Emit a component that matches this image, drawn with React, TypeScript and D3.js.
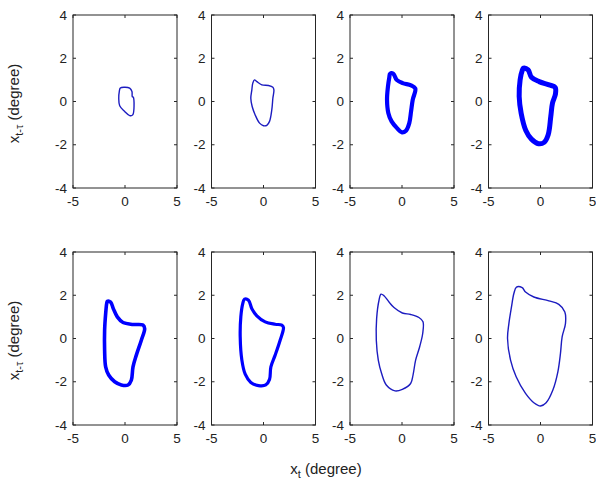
import React from "react";
import * as d3 from "d3";

type Pt = [number, number];

const xTicks = [-5, 0, 5];
const yTicks = [-4, -2, 0, 2, 4];
const xDomain: [number, number] = [-5, 5];
const yDomain: [number, number] = [-4, 4];

const loop1: Pt[] = [[-0.45,0.62],[-0.1,0.66],[0.45,0.62],[0.67,0.46],[0.7,0.23],[0.8,0.2],[0.74,-0.62],[0.45,-0.65],[-0.03,-0.46],[-0.51,-0.2],[-0.6,0.15],[-0.55,0.46]];
const loop2: Pt[] = [[-0.87,1.0],[-0.64,0.92],[-0.16,0.77],[0.48,0.74],[0.9,0.66],[1.0,0.54],[0.9,0.15],[0.8,-0.38],[0.58,-0.92],[0.32,-1.1],[0,-1.12],[-0.38,-1.0],[-0.8,-0.62],[-1.09,-0.23],[-1.22,0.15],[-1.12,0.54],[-1.03,0.85]];
const loop3: Pt[] = [[-1.15,1.28],[-0.83,1.28],[-0.51,1.0],[0.06,0.85],[0.87,0.75],[1.28,0.6],[1.03,0.08],[0.87,-0.46],[0.7,-1.0],[0.38,-1.35],[0,-1.43],[-0.48,-1.23],[-1.0,-0.92],[-1.31,-0.54],[-1.44,0.08],[-1.35,0.69],[-1.22,1.12]];
const loop4: Pt[] = [[-1.63,1.54],[-1.19,1.46],[-0.87,1.12],[-0.13,0.92],[0.83,0.77],[1.41,0.65],[1.44,0.35],[1.15,-0.08],[0.99,-0.69],[0.74,-1.54],[0.35,-1.89],[-0.19,-1.95],[-0.87,-1.74],[-1.41,-1.34],[-1.86,-0.54],[-2.05,0.23],[-1.96,1.0],[-1.76,1.43]];
const loop5: Pt[] = [[-1.7,1.72],[-1.38,1.68],[-1.12,1.38],[-0.74,1.0],[-0.19,0.74],[0.77,0.65],[1.73,0.62],[1.89,0.46],[1.57,-0.08],[1.09,-0.77],[0.77,-1.31],[0.61,-1.92],[0.29,-2.15],[-0.35,-2.15],[-0.99,-2.0],[-1.57,-1.69],[-1.86,-1.31],[-1.96,-0.54],[-1.96,0.38],[-1.86,1.15],[-1.76,1.62]];
const loop6: Pt[] = [[-1.83,1.82],[-1.44,1.77],[-1.12,1.38],[-0.64,1.05],[0.16,0.77],[1.12,0.66],[1.76,0.62],[1.92,0.51],[1.6,-0.08],[1.12,-0.77],[0.71,-1.31],[0.58,-1.89],[0.22,-2.15],[-0.48,-2.18],[-1.22,-2.03],[-1.76,-1.65],[-2.08,-1.0],[-2.24,0.08],[-2.18,1.0],[-1.99,1.62]];
const loop7: Pt[] = [[-2.02,2.05],[-1.73,1.98],[-1.25,1.69],[-0.77,1.43],[0.03,1.18],[0.83,1.11],[1.63,0.97],[2.02,0.77],[1.99,0.23],[1.7,-0.38],[1.31,-1.0],[1.06,-1.69],[0.83,-2.08],[0.03,-2.35],[-0.67,-2.42],[-1.51,-2.15],[-1.96,-1.62],[-2.28,-1.0],[-2.47,-0.08],[-2.44,0.92],[-2.21,1.77]];
const loop8: Pt[] = [[-2.31,2.38],[-1.76,2.35],[-1.44,2.15],[-0.64,1.92],[0.8,1.74],[1.76,1.58],[2.34,1.23],[2.4,0.69],[2.08,0.08],[1.92,-0.69],[1.67,-1.54],[1.19,-2.38],[0.54,-2.97],[0,-3.12],[-0.64,-2.97],[-1.44,-2.54],[-2.34,-1.77],[-2.88,-1.0],[-3.17,0],[-3.04,0.69],[-2.79,1.46],[-2.56,2.08]];

const loops: Pt[][] = [loop1, loop2, loop3, loop4, loop5, loop6, loop7, loop8];
const strokeWidths = [1.4, 1.4, 4.2, 5, 3.6, 3.2, 1.4, 1.4];
const strokeColors = ["#1c1cc0", "#1c1cc0", "#0000ff", "#0000ff", "#0000ff", "#0000ff", "#1c1cc0", "#1c1cc0"];

const panelLefts = [73, 211.5, 350, 488.5];
const panelTops = [15, 252];
const PW = 104;
const PH = 173;
const FONT = "Arial, 'Liberation Sans', Helvetica, sans-serif";

function Panel({ left, top, data, sw, color }: { left: number; top: number; data: Pt[]; sw: number; color: string }) {
  const x = d3.scaleLinear().domain(xDomain).range([0, PW]);
  const y = d3.scaleLinear().domain(yDomain).range([PH, 0]);
  const line = d3
    .line<Pt>()
    .x((d) => x(d[0]))
    .y((d) => y(d[1]))
    .curve(d3.curveCatmullRomClosed.alpha(0.5));
  const tl = 3;
  return (
    <g transform={`translate(${left},${top})`}>
      <path d={line(data) || ""} fill="none" stroke={color} strokeWidth={sw} strokeLinejoin="round" />
      <rect x={0} y={0} width={PW} height={PH} fill="none" stroke="#262626" strokeWidth={1} />
      {xTicks.map((t) => (
        <g key={"x" + t}>
          <line x1={x(t)} x2={x(t)} y1={PH} y2={PH - tl} stroke="#262626" />
          <line x1={x(t)} x2={x(t)} y1={0} y2={tl} stroke="#262626" />
          <text x={x(t)} y={PH + 18} textAnchor="middle" fontSize={13.5} fontFamily={FONT} fill="#222">
            {t}
          </text>
        </g>
      ))}
      {yTicks.map((t) => (
        <g key={"y" + t}>
          <line x1={0} x2={tl} y1={y(t)} y2={y(t)} stroke="#262626" />
          <line x1={PW} x2={PW - tl} y1={y(t)} y2={y(t)} stroke="#262626" />
          <text x={-6} y={y(t)} dy="0.35em" textAnchor="end" fontSize={13.5} fontFamily={FONT} fill="#222">
            {t}
          </text>
        </g>
      ))}
    </g>
  );
}

export default function App() {
  const panels: React.ReactNode[] = [];
  panelTops.forEach((top, r) =>
    panelLefts.forEach((left, c) => {
      const i = r * 4 + c;
      panels.push(<Panel key={i} left={left} top={top} data={loops[i]} sw={strokeWidths[i]} color={strokeColors[i]} />);
    })
  );
  return (
    <svg width={596} height={483} style={{ position: "absolute", left: 0, top: 0, background: "#fff" }}>
      <rect width={596} height={483} fill="#fff" />
      {panels}
      {panelTops.map((top) => (
        <text
          key={"yl" + top}
          transform={`translate(19,${top + PH / 2 + 2}) rotate(-90)`}
          textAnchor="middle"
          fontSize={15}
          fontFamily={FONT}
          fill="#222"
        >
          x<tspan fontSize={11} dy={4}>t-τ</tspan>
          <tspan dy={-4}> (degree)</tspan>
        </text>
      ))}
      <text x={326} y={474} textAnchor="middle" fontSize={15} fontFamily={FONT} fill="#222">
        x<tspan fontSize={11} dy={4}>t</tspan>
        <tspan dy={-4}> (degree)</tspan>
      </text>
    </svg>
  );
}
